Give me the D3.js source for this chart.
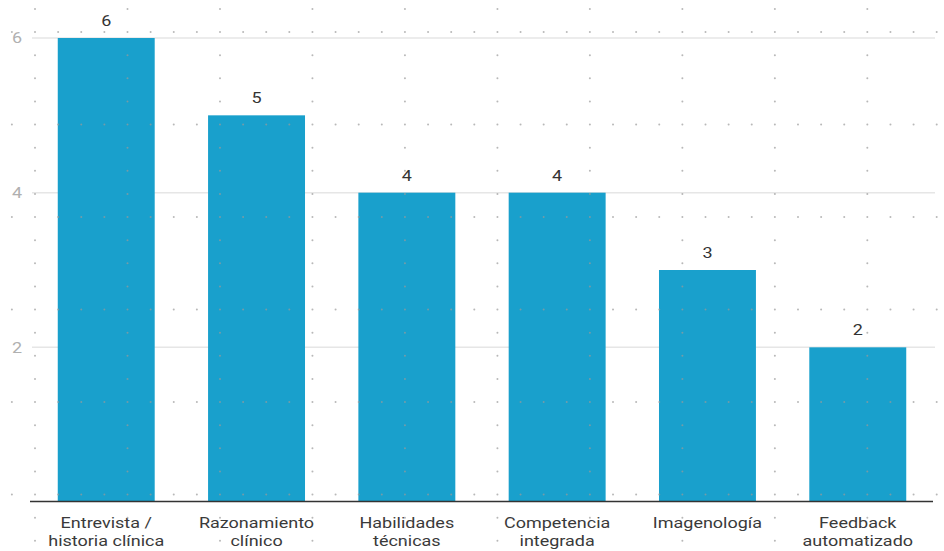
<!DOCTYPE html>
<html>
<head>
<meta charset="utf-8">
<script src="https://cdn.jsdelivr.net/npm/d3@7/dist/d3.min.js"></script>
<style>
  html, body { margin: 0; padding: 0; background: #fff; }
  svg { display: block; font-family: Roboto, "Noto Sans", sans-serif; }
</style>
</head>
<body>
<svg id="chart" width="944" height="551"></svg>
<script>
const categories = [
  ["Entrevista /", "historia clínica"],
  ["Razonamiento", "clínico"],
  ["Habilidades", "técnicas"],
  ["Competencia", "integrada"],
  ["Imagenología"],
  ["Feedback", "automatizado"]
];
const values = [6, 5, 4, 4, 3, 2];
const yTicks = [2, 4, 6];

const W = 944, H = 551;
const SX = 1.2; // horizontal stretch of the glyphs seen in the reference
const svg = d3.select("#chart");

const x = d3.scaleBand()
  .domain(d3.range(categories.length))
  .range([31, 933])
  .paddingInner(0.355)
  .paddingOuter(0.178);

const y = d3.scaleLinear().domain([0, 6]).range([502, 38]);

// gridlines
svg.append("g").selectAll("line").data(yTicks).join("line")
  .attr("x1", 32).attr("x2", 935)
  .attr("y1", d => y(d)).attr("y2", d => y(d))
  .attr("stroke", "#e6e6e6").attr("stroke-width", 1.5);

// y tick labels
svg.append("g").selectAll("text").data(yTicks).join("text")
  .attr("transform", d => `translate(22,${y(d)}) scale(${SX},1)`)
  .attr("dy", "0.36em")
  .attr("text-anchor", "end")
  .attr("font-size", 15)
  .attr("fill", "#b0b0b0")
  .text(d => d);

// bars
svg.append("g").selectAll("rect").data(values).join("rect")
  .attr("x", (d, i) => x(i))
  .attr("width", x.bandwidth())
  .attr("y", d => y(d))
  .attr("height", d => y(0) - y(d))
  .attr("fill", "#19a0cc");

// value labels
svg.append("g").selectAll("text").data(values).join("text")
  .attr("transform", (d, i) => `translate(${x(i) + x.bandwidth() / 2},${y(d) - 12}) scale(${SX},1)`)
  .attr("text-anchor", "middle")
  .attr("font-size", 15)
  .attr("fill", "#333")
  .text(d => d);

// baseline
svg.append("line")
  .attr("x1", 30).attr("x2", 933)
  .attr("y1", y(0) - 0.5).attr("y2", y(0) - 0.5)
  .attr("stroke", "#333").attr("stroke-width", 1.5);

// x labels
const xl = svg.append("g").selectAll("text").data(categories).join("text")
  .attr("transform", (d, i) => `translate(${x(i) + x.bandwidth() / 2},528) scale(${SX},1)`)
  .attr("text-anchor", "middle")
  .attr("font-size", 15)
  .attr("fill", "#3a3a3a");
xl.selectAll("tspan").data(d => d).join("tspan")
  .attr("x", 0)
  .attr("dy", (d, i) => i === 0 ? 0 : 18.5)
  .text(d => d);

// decorative dot overlay
const step = 23.12;
const dots = [];
for (let i = 0; i * step + 11.9 < W; i++) {
  for (let j = 0; j * step + 9 < H; j++) {
    if ((i - 1) % 4 === 0 || (j - 1) % 4 === 0) {
      dots.push([11.9 + i * step, 9 + j * step]);
    }
  }
}
svg.append("g").selectAll("circle").data(dots).join("circle")
  .attr("cx", d => d[0]).attr("cy", d => d[1])
  .attr("r", 1)
  .attr("fill", "#9a9a9a")
  .attr("opacity", 0.7);
</script>
</body>
</html>
